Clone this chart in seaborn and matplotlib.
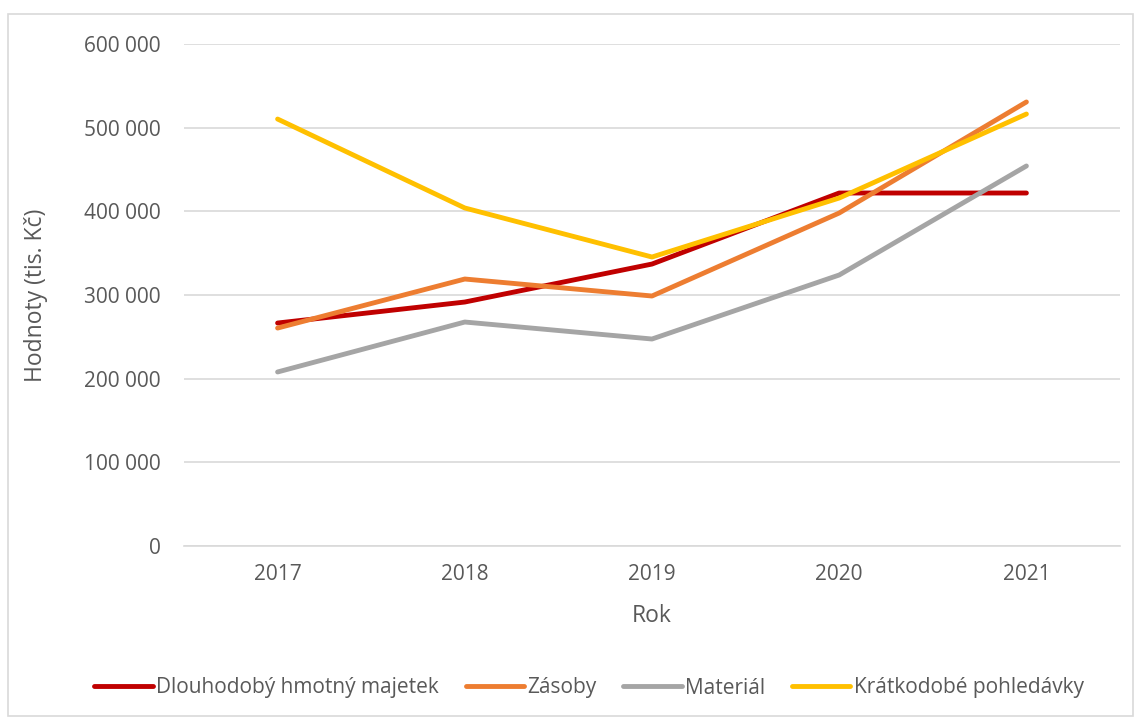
import matplotlib
matplotlib.use("Agg")
import matplotlib.pyplot as plt
import pandas as pd
import seaborn as sns

years = ["2017", "2018", "2019", "2020", "2021"]
dlouhodoby = [266500, 291600, 337000, 421900, 421900]
zasoby = [260500, 319100, 298800, 398000, 530700]
material = [208000, 267700, 247400, 323900, 454200]
kratkodobe = [510300, 404000, 345400, 415900, 516300]

series_names = ["Dlouhodobý hmotný majetek", "Zásoby", "Materiál", "Krátkodobé pohledávky"]
colors = ["#C00000", "#ED7D31", "#A5A5A5", "#FFC000"]

# long format for seaborn
rows = []
for name, vals in zip(series_names, [dlouhodoby, zasoby, material, kratkodobe]):
    for i, v in enumerate(vals):
        rows.append({"pos": i, "Rok": years[i], "value": v, "series": name})
df = pd.DataFrame(rows)

sns.set_style("white")
plt.rcParams["font.family"] = ["Open Sans", "DejaVu Sans"]

fig = plt.figure(figsize=(11.39, 7.17), dpi=100)
ax = fig.add_axes([184 / 1139, 1 - 546 / 717, (1120 - 184) / 1139, (546 - 44) / 717])

sns.lineplot(data=df, x="pos", y="value", hue="series", hue_order=series_names,
             palette=colors, linewidth=3.5, ax=ax, legend=False,
             solid_capstyle="round")

ax.set_xlim(-0.5, 4.5)
ax.set_ylim(0, 600000)
ax.set_xticks(range(len(years)))
ax.set_xticklabels(years)
ax.set_yticks(range(0, 600001, 100000))
ax.set_yticklabels([f"{v:,}".replace(",", " ") for v in range(0, 600001, 100000)])
ax.tick_params(axis="both", labelsize=15, colors="#595959", length=0)
ax.tick_params(axis="x", pad=13)
ax.tick_params(axis="y", pad=17)
ax.grid(axis="y", color="#D9D9D9", linewidth=1.2)
ax.set_axisbelow(True)
for side in ["top", "right", "left"]:
    ax.spines[side].set_visible(False)
ax.spines["bottom"].set_color("#D9D9D9")
ax.spines["bottom"].set_linewidth(1.2)

ax.set_xlabel("Rok", fontsize=16.5, color="#595959", labelpad=14)
ax.set_ylabel("Hodnoty (tis. Kč)", fontsize=16.5, color="#595959", labelpad=26)

handles = [plt.Line2D([0], [0], color=c, linewidth=3.5, solid_capstyle="round") for c in colors]
fig.legend(handles, series_names, loc="center", bbox_to_anchor=(589 / 1139, 1 - 688 / 717),
           ncol=4, frameon=False, fontsize=15, labelcolor="#595959",
           handlelength=2.8, handletextpad=0.15, columnspacing=1.3)

# chart border
border = plt.Rectangle((8 / 1139, 0.002), 1125 / 1139, 1 - 14 / 717 - 0.002,
                       transform=fig.transFigure, fill=False,
                       edgecolor="#D9D9D9", linewidth=1.2)
fig.patches.append(border)

fig.savefig("out.png", dpi=100)
